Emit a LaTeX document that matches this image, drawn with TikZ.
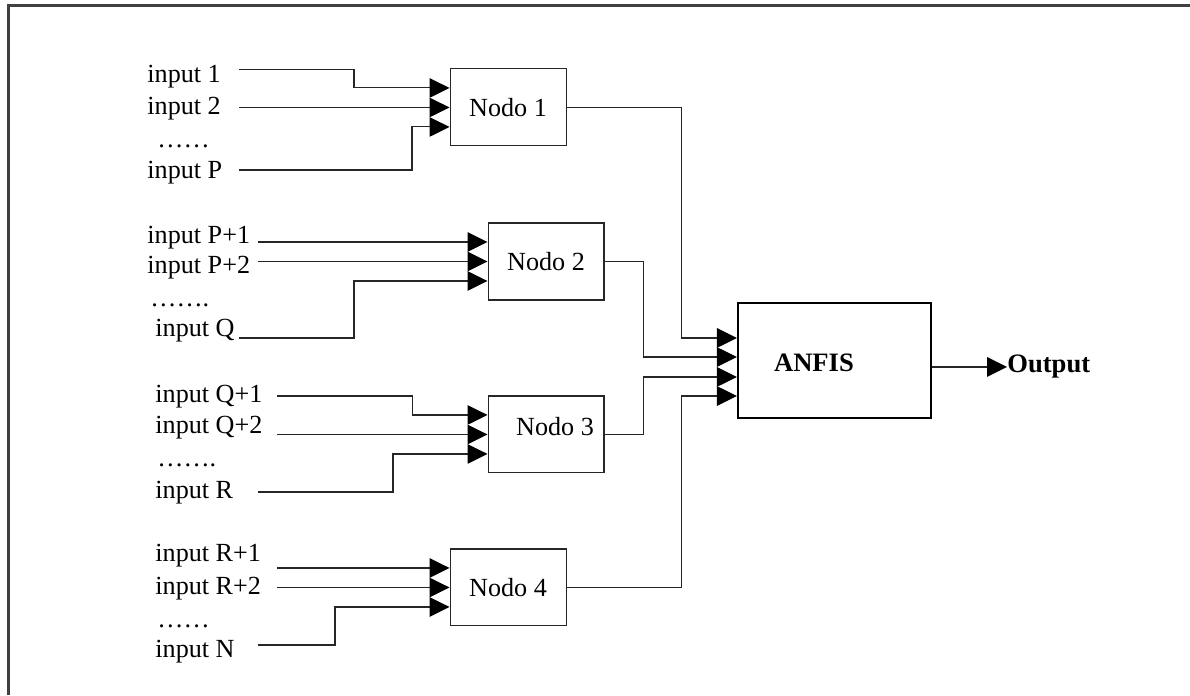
\documentclass[tikz,border=0pt]{standalone}
\usepackage{fontspec}
\setmainfont{Liberation Serif}
\usetikzlibrary{arrows.meta, positioning}

\begin{document}
\begin{tikzpicture}[
  font=\fontsize{12.4}{14}\selectfont,
  nodo/.style={draw=black!85, line width=0.5pt, minimum width=1.933cm, minimum height=1.283cm, inner sep=0pt},
  anfisbox/.style={draw=black, line width=1pt, minimum width=3.217cm, minimum height=1.917cm, inner sep=0pt},
  inlabel/.style={anchor=base west, inner sep=0pt},
  outlabel/.style={anchor=west, inner sep=0pt, font=\fontsize{12.6}{14}\selectfont\bfseries},
  wire/.style={draw=black!85, line width=0.5pt},
  arrow/.style={wire, -{Triangle[length=0.333cm, width=0.325cm, black]}},
  frameline/.style={draw=black!75, line width=1pt}
]
\useasboundingbox (0,0) rectangle (19.833,11.583);
\draw[frameline] (0.142,0) -- (0.142,11.492) -- (19.833,11.492);

% blocks
\node[nodo] (nodo1) at (8.467,9.792) {Nodo 1};
\node[nodo] (nodo2) at (9.1,7.225) {Nodo 2};
\node[nodo] (nodo3) at (9.1,4.342) {};
\node (nodo3txt) at ([xshift=0.15cm, yshift=0.133cm]nodo3.center) {Nodo 3};
\node[nodo] (nodo4) at (8.467,1.792) {Nodo 4};
\node[anfisbox] (anfis) at (13.908,5.575) {};
\node[font=\fontsize{12.6}{14}\selectfont\bfseries] (anfistxt) at ([xshift=-0.342cm, yshift=-0.042cm]anfis.center) {ANFIS};
\node[outlabel] (output) at (16.783,5.467) {Output};

% input labels
\node[inlabel] (l1) at (2.45,10.2) {input 1};
\node[inlabel] (l2) at (2.45,9.667) {input 2};
\node[inlabel] (l3) at (2.617,9.133) {……};
\node[inlabel] (l4) at (2.45,8.6) {input P};
\node[inlabel] (l5) at (2.45,7.533) {input P+1};
\node[inlabel] (l6) at (2.45,7.017) {input P+2};
\node[inlabel] (l7) at (2.5,6.467) {…….};
\node[inlabel] (l8) at (2.583,5.967) {input Q};
\node[inlabel] (l9) at (2.583,4.867) {input Q+1};
\node[inlabel] (l10) at (2.583,4.35) {input Q+2};
\node[inlabel] (l11) at (2.617,3.8) {…….};
\node[inlabel] (l12) at (2.583,3.283) {input R};
\node[inlabel] (l13) at (2.583,2.217) {input R+1};
\node[inlabel] (l14) at (2.583,1.683) {input R+2};
\node[inlabel] (l15) at (2.617,1.133) {……};
\node[inlabel] (l16) at (2.583,0.633) {input N};

% wire starts
\coordinate (a1) at (3.983,10.428);
\coordinate (a2) at (3.983,9.792);
\coordinate (a3) at (3.983,8.75);
\coordinate (b1) at (4.3,7.55);
\coordinate (b2) at (4.3,7.225);
\coordinate (b3) at (3.983,5.95);
\coordinate (c1) at (4.617,4.983);
\coordinate (c2) at (4.617,4.342);
\coordinate (c3) at (4.3,3.383);
\coordinate (d1) at (4.617,2.117);
\coordinate (d2) at (4.617,1.792);
\coordinate (d3) at (4.3,0.833);

\draw[arrow] (a1) -- ++(1.917,0) |- ([yshift=0.325cm]nodo1.west);
\draw[arrow] (a2) -- (a2 -| nodo1.west);
\draw[arrow] (a3) -- ++(2.883,0) |- ([yshift=-0.325cm]nodo1.west);

\draw[arrow] (b1) -- (b1 -| nodo2.west);
\draw[arrow] (b2) -- (b2 -| nodo2.west);
\draw[arrow] (b3) -- ++(1.917,0) |- ([yshift=-0.325cm]nodo2.west);

\draw[arrow] (c1) -- ++(2.25,0) |- ([yshift=0.325cm]nodo3.west);
\draw[arrow] (c2) -- (c2 -| nodo3.west);
\draw[arrow] (c3) -- ++(2.25,0) |- ([yshift=-0.325cm]nodo3.west);

\draw[arrow] (d1) -- (d1 -| nodo4.west);
\draw[arrow] (d2) -- (d2 -| nodo4.west);
\draw[arrow] (d3) -- ++(1.283,0) |- ([yshift=-0.325cm]nodo4.west);

% into ANFIS
\draw[arrow] (nodo1.east) -- ++(1.912,0) |- ([yshift=0.375cm]anfis.west);
\draw[arrow] (nodo2.east) -- ++(0.642,0) |- ([yshift=0.058cm]anfis.west);
\draw[arrow] (nodo3.east) -- ++(0.642,0) |- ([yshift=-0.275cm]anfis.west);
\draw[arrow] (nodo4.east) -- ++(1.912,0) |- ([yshift=-0.592cm]anfis.west);
\draw[arrow, line width=0.8pt] ([yshift=-0.108cm]anfis.east) -- (output.west);
\end{tikzpicture}
\end{document}
